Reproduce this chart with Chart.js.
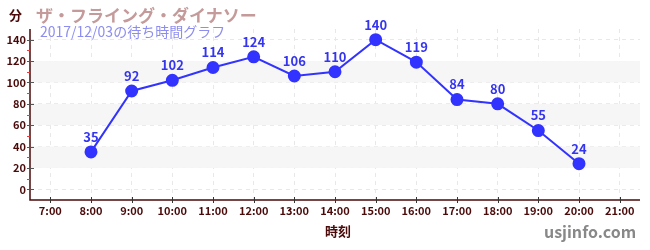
<!DOCTYPE html>
<html>
<head>
<meta charset="utf-8">
<script src="https://cdn.jsdelivr.net/npm/chart.js@4"></script>
<style>
  body { margin: 0; background: #fff; }
  #wrap { position: relative; width: 650px; height: 250px; font-family: "Noto Sans CJK JP", "Noto Sans", sans-serif; }
  .txt { position: absolute; white-space: nowrap; font-weight: bold; line-height: 1; }
</style>
</head>
<body>
<div id="wrap">
  <canvas id="myChart" width="650" height="250"></canvas>
  <div class="txt" style="left:9px;top:8px;font-size:13px;color:#4a0a0a;">分</div>
  <div class="txt" style="left:36px;top:6px;font-size:17px;color:#c49a9a;">ザ・フライング・ダイナソー</div>
  <div class="txt" style="left:40px;top:24px;font-size:14px;font-weight:normal;color:#8d8df0;">2017/12/03の待ち時間グラフ</div>
  <div class="txt" style="left:325px;top:224px;font-size:13px;color:#4a0a0a;">時刻</div>
  <div class="txt" style="left:544px;top:223px;font-size:16px;color:#888;">usjinfo.com</div>
</div>
<script>
const hours = ["7:00", "8:00", "9:00", "10:00", "11:00", "12:00", "13:00", "14:00", "15:00", "16:00", "17:00", "18:00", "19:00", "20:00", "21:00"];
const waitTimes = [null, 35, 92, 102, 114, 124, 106, 110, 140, 119, 84, 80, 55, 24, null];
const shadedBands = [[20, 40], [60, 80], [100, 120]];
const majorTicks = [0, 20, 40, 60, 80, 100, 120, 140];
const minorTicks = [10, 30, 50, 70, 90, 110, 130];

const axisColor = "#4a0a0a";

// shaded bands, axis lines, ticks and value labels
const decor = {
  id: "decor",
  beforeDatasetsDraw(chart) {
    const { ctx, chartArea, scales } = chart;
    ctx.save();
    ctx.fillStyle = "#f6f6f6";
    shadedBands.forEach(([a, b]) => {
      const y1 = scales.y.getPixelForValue(b);
      const y2 = scales.y.getPixelForValue(a);
      ctx.fillRect(chartArea.left, y1, chartArea.right - chartArea.left, y2 - y1);
    });
    ctx.restore();
  },
  afterDraw(chart) {
    const { ctx, chartArea, scales } = chart;
    ctx.save();
    ctx.setLineDash([]);

    // axis lines
    ctx.strokeStyle = axisColor;
    ctx.lineWidth = 1.5;
    ctx.beginPath();
    ctx.moveTo(chartArea.left, chartArea.top);
    ctx.lineTo(chartArea.left, chartArea.bottom);
    ctx.lineTo(chartArea.right, chartArea.bottom);
    ctx.stroke();

    ctx.lineWidth = 1;
    ctx.strokeStyle = "#555";
    majorTicks.forEach(v => {
      const y = Math.round(scales.y.getPixelForValue(v)) + 0.5;
      ctx.beginPath();
      ctx.moveTo(chartArea.left - 3, y);
      ctx.lineTo(chartArea.left + 4, y);
      ctx.stroke();
    });
    ctx.strokeStyle = "#ff3030";
    minorTicks.forEach(v => {
      const y = Math.round(scales.y.getPixelForValue(v)) + 0.5;
      ctx.beginPath();
      ctx.moveTo(chartArea.left - 3, y);
      ctx.lineTo(chartArea.left, y);
      ctx.stroke();
    });
    ctx.strokeStyle = "#333";
    hours.forEach((h, i) => {
      const x = Math.round(scales.x.getPixelForValue(i)) + 0.5;
      ctx.beginPath();
      ctx.moveTo(x, chartArea.bottom - 3);
      ctx.lineTo(x, chartArea.bottom + 3);
      ctx.stroke();
    });

    // value labels
    const meta = chart.getDatasetMeta(0);
    ctx.fillStyle = "#3535ee";
    ctx.font = "bold 13px 'Noto Sans CJK JP', 'Noto Sans', sans-serif";
    ctx.textAlign = "center";
    ctx.textBaseline = "middle";
    meta.data.forEach((pt, i) => {
      if (waitTimes[i] == null) return;
      ctx.fillText(waitTimes[i], pt.x, pt.y - 15);
    });
    ctx.restore();
  },
};

new Chart("myChart", {
  type: "line",
  data: {
    labels: hours,
    datasets: [
      {
        label: "待ち時間",
        data: waitTimes,
        borderColor: "#3333ff",
        backgroundColor: "#3333ff",
        borderWidth: 2,
        pointRadius: 5.5,
        pointHoverRadius: 5.5,
        tension: 0,
        spanGaps: false,
      },
    ],
  },
  options: {
    responsive: false,
    animation: false,
    layout: { padding: { top: 29, right: 10, left: 0, bottom: 0 } },
    plugins: {
      legend: { display: false },
      tooltip: { enabled: false },
    },
    scales: {
      x: {
        type: "category",
        offset: true,
        afterFit: scale => { scale.height = 50; },
        grid: {
          offset: false,
          drawTicks: false,
          color: "#e8e8e8",
        },
        border: { display: false, dash: [4, 4] },
        ticks: {
          padding: 4,
          color: axisColor,
          font: { size: 11, weight: "bold", family: "'Noto Sans CJK JP', 'Noto Sans', sans-serif" },
          maxRotation: 0,
          autoSkip: false,
        },
      },
      y: {
        min: -10,
        max: 150,
        afterFit: scale => { scale.width = 30; },
        afterBuildTicks: scale => { scale.ticks = majorTicks.map(v => ({ value: v })); },
        grid: {
          drawTicks: false,
          color: "#e8e8e8",
        },
        border: { display: false, dash: [4, 4] },
        ticks: {
          padding: 4,
          color: axisColor,
          font: { size: 11, weight: "bold", family: "'Noto Sans CJK JP', 'Noto Sans', sans-serif" },
        },
      },
    },
  },
  plugins: [decor],
});
</script>
</body>
</html>
